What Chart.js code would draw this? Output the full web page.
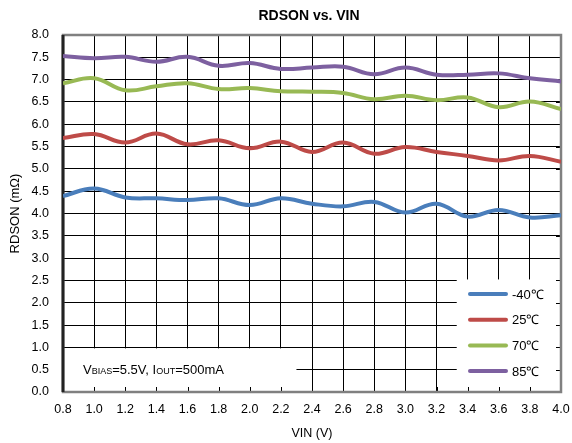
<!DOCTYPE html>
<html>
<head>
<meta charset="utf-8">
<script src="https://cdn.jsdelivr.net/npm/chart.js@4/dist/chart.umd.min.js"></script>
<style>
  html, body { margin: 0; padding: 0; background: #fff; }
  #wrap { width: 572px; height: 443px; }
</style>
</head>
<body>
<div id="wrap"><canvas id="c" width="572" height="443"></canvas></div>
<script>
// data (VIN in V, RDSON in mOhm)
const vin = [0.8, 1.0, 1.2, 1.4, 1.6, 1.8, 2.0, 2.2, 2.4, 2.6, 2.8, 3.0, 3.2, 3.4, 3.6, 3.8, 4.0];
const rdsonM40 = [4.39, 4.56, 4.36, 4.34, 4.30, 4.34, 4.19, 4.34, 4.22, 4.16, 4.26, 4.02, 4.22, 3.93, 4.08, 3.91, 3.96];
const rdson25 = [5.69, 5.78, 5.59, 5.79, 5.55, 5.64, 5.46, 5.61, 5.38, 5.59, 5.34, 5.49, 5.38, 5.29, 5.19, 5.29, 5.16];
const rdson70 = [6.92, 7.03, 6.76, 6.85, 6.92, 6.79, 6.81, 6.74, 6.73, 6.70, 6.56, 6.64, 6.54, 6.60, 6.38, 6.51, 6.34];
const rdson85 = [7.53, 7.48, 7.51, 7.40, 7.51, 7.31, 7.37, 7.24, 7.27, 7.29, 7.12, 7.27, 7.11, 7.11, 7.14, 7.03, 6.96];
const seriesLabels = ['-40℃', '25℃', '70℃', '85℃'];
const seriesColors = ['#4a7ebb', '#be4b48', '#98b954', '#7d60a0'];

const FONT = 'Arial, "Liberation Sans", sans-serif';

function pts(ys) {
  return vin.map((x, i) => ({ x: x, y: ys[i] }));
}

// frame, boxes, legend, note, title
const decor = {
  id: 'decor',
  beforeDatasetsDraw(chart) {
    const { ctx, chartArea: a, scales } = chart;
    ctx.save();

    // white boxes hiding the grid (note + legend)
    ctx.fillStyle = '#fff';
    ctx.fillRect(a.left, scales.y.getPixelForValue(1.0) + 1, scales.x.getPixelForValue(2.3) - a.left, a.bottom - scales.y.getPixelForValue(1.0) - 1);
    ctx.fillRect(scales.x.getPixelForValue(3.33), scales.y.getPixelForValue(2.5) - 1, a.right - scales.x.getPixelForValue(3.33), a.bottom - scales.y.getPixelForValue(2.5) + 1);

    // small inward ticks on bottom and right
    ctx.strokeStyle = '#000';
    ctx.lineWidth = 1;
    ctx.beginPath();
    scales.x.ticks.forEach(t => {
      const px = Math.round(scales.x.getPixelForValue(t.value)) + 0.5;
      ctx.moveTo(px, a.bottom);
      ctx.lineTo(px, a.bottom - 5);
    });
    scales.y.ticks.forEach(t => {
      const py = Math.round(scales.y.getPixelForValue(t.value)) + 0.5;
      ctx.moveTo(a.right, py);
      ctx.lineTo(a.right - 5, py);
    });
    ctx.stroke();

    // plot frame
    ctx.strokeStyle = '#808080';
    ctx.lineWidth = 2.5;
    ctx.strokeRect(a.left, a.top, a.right - a.left, a.bottom - a.top);
    ctx.strokeStyle = '#222';
    ctx.lineWidth = 3;
    ctx.beginPath();
    ctx.moveTo(a.left, a.top);
    ctx.lineTo(a.left, a.bottom);
    ctx.stroke();

    // note text with subscripts
    ctx.fillStyle = '#000';
    ctx.textBaseline = 'alphabetic';
    const parts = [['V', 13], ['BIAS', 9], ['=5.5V, I', 13], ['OUT', 9], ['=500mA', 13]];
    let tx = 83;
    const ty = 374;
    parts.forEach(p => {
      ctx.font = p[1] + 'px ' + FONT;
      ctx.fillText(p[0], tx, ty);
      tx += ctx.measureText(p[0]).width;
    });

    // legend
    const lx = 470, ly0 = 294, step = 25.7;
    chart.data.datasets.forEach((ds, i) => {
      const y = ly0 + i * step;
      ctx.strokeStyle = ds.borderColor;
      ctx.lineWidth = 4;
      ctx.lineCap = 'round';
      ctx.beginPath();
      ctx.moveTo(lx, y);
      ctx.lineTo(lx + 36, y);
      ctx.stroke();
      ctx.fillStyle = '#000';
      ctx.font = '13px ' + FONT;
      ctx.textBaseline = 'middle';
      ctx.fillText(ds.label, lx + 42, y + 1);
    });

    // title
    ctx.font = 'bold 14px ' + FONT;
    ctx.textAlign = 'center';
    ctx.textBaseline = 'middle';
    ctx.fillText('RDSON vs. VIN', 309, 16);
    ctx.restore();
  }
};

new Chart(document.getElementById('c'), {
  type: 'line',
  data: {
    datasets: [
      { label: seriesLabels[0], data: pts(rdsonM40), borderColor: seriesColors[0] },
      { label: seriesLabels[1], data: pts(rdson25), borderColor: seriesColors[1] },
      { label: seriesLabels[2], data: pts(rdson70), borderColor: seriesColors[2] },
      { label: seriesLabels[3], data: pts(rdson85), borderColor: seriesColors[3] }
    ]
  },
  options: {
    responsive: false,
    animation: false,
    layout: { padding: { top: 35, right: 11, bottom: 0, left: 0 } },
    elements: {
      line: { borderWidth: 4, tension: 0.4, capBezierPoints: true },
      point: { radius: 0 }
    },
    plugins: {
      legend: { display: false },
      title: { display: false },
      tooltip: { enabled: false }
    },
    scales: {
      x: {
        type: 'linear',
        min: 0.8,
        max: 4.0,
        afterFit: s => { s.height = 51; s.paddingLeft = 0; s.paddingRight = 0; },
        ticks: { stepSize: 0.2, padding: 10, color: '#000', font: { family: FONT, size: 12.5 },
          callback: v => Number(v).toFixed(1) },
        grid: { color: '#000', lineWidth: 1, drawTicks: false },
        border: { display: false },
        title: { display: true, text: 'VIN (V)', color: '#000', font: { family: FONT, size: 12.5 }, padding: { top: 0, bottom: 2 } }
      },
      y: {
        min: 0,
        max: 8,
        afterFit: s => { s.width = 63; s.paddingTop = 0; s.paddingBottom = 0; },
        ticks: { stepSize: 0.5, padding: 14, color: '#000', font: { family: FONT, size: 12.5 },
          callback: v => Number(v).toFixed(1) },
        grid: { color: '#000', lineWidth: 1, drawTicks: false },
        border: { display: false },
        title: { display: true, text: 'RDSON (mΩ)', color: '#000', font: { family: FONT, size: 13 }, padding: { top: 8, bottom: 0 } }
      }
    }
  },
  plugins: [decor]
});
</script>
</body>
</html>
